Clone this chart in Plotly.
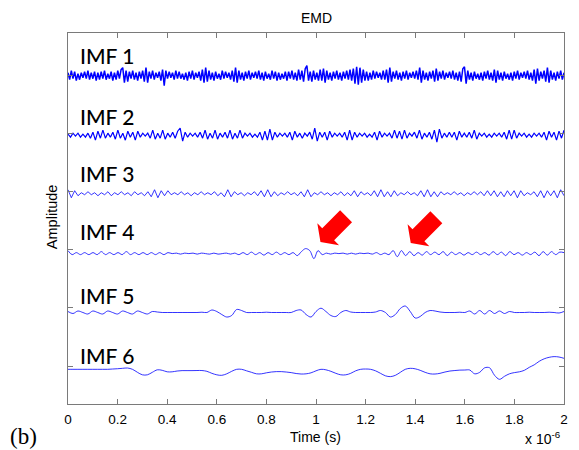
import numpy as np
import plotly.graph_objects as go

# ---------------- data (amplitudes, arbitrary units ~ px) ----------------
imf_names = ["IMF 1", "IMF 2", "IMF 3", "IMF 4", "IMF 5", "IMF 6"]

imf1 = [3,-4,5,-3,4,-5,2,-4,3,-2,4,-3,5,-4,3,-3,4,-5,3,-4,
        4,-3,5,-4,2,-3,4,-5,3,-4,5,-3,6,8,-7,5,-6,4,-3,5,
        -4,3,-5,4,-3,5,-6,8,-7,4,-3,5,-4,3,-2,4,-5,6,-10,5,
        -3,4,-2,3,-4,5,-3,4,-3,2,-4,3,-5,4,-3,5,-4,3,-2,4,
        -5,6,-7,8,-6,5,-4,3,-5,4,-3,2,-4,5,-3,4,-2,3,-4,5,
        -6,8,-7,5,-4,3,-5,4,-3,5,-4,3,-2,4,-3,5,-4,3,-5,4,
        -3,2,-4,5,-3,4,-5,3,-4,2,-3,4,-5,4,-3,5,-4,3,-5,6,
        -4,5,-6,7,10,-5,4,-6,5,-4,3,-5,6,-5,7,-7,5,-4,3,-5,
        4,-3,5,-4,3,-5,4,-3,5,-4,6,-5,7,-8,9,-9,8,-7,6,-5,
        4,-5,3,-4,5,-3,4,-2,3,-4,5,-4,6,-7,8,-6,4,-3,5,-4,
        3,-5,4,-3,5,-4,3,-2,4,-3,5,-4,8,-7,5,-4,3,-5,4,-3,
        5,-6,7,-5,4,-3,5,-4,3,-2,4,-3,5,-4,3,-5,4,-6,7,9,
        -8,5,-4,3,-5,4,-3,2,-4,3,-5,4,-3,5,-4,3,-5,6,-7,5,
        -4,3,-5,4,-3,2,-4,3,-5,4,-3,5,-4,3,-2,4,-3,5,-4,3,
        -5,6,-8,7,-5,4,-3,5,-6,8,-7,5,-4,3,-5,4,-3,5,-4,3]

imf2 = [1,-2,2,-1,2,-2,1,-2,2,-3,3,-5,4,-3,5,-3,2,-2,3,-4,
        5,-3,2,-5,4,-2,3,-5,4,-2,2,-1,2,-3,5,-4,2,-3,5,-4,
        2,-2,3,-3,4,7,-6,3,-2,2,-1,2,-2,3,-3,5,-4,2,-3,5,
        -4,2,-2,3,-3,5,-4,2,-3,5,-3,2,-1,2,-2,1,-2,3,-5,4,
        -5,6,-5,3,-2,2,-1,2,-2,3,-5,4,-2,2,-3,2,-1,3,-4,7,
        -6,3,-2,3,-5,4,-2,2,-1,2,-2,3,-5,5,-5,3,-2,2,-1,2,
        -2,1,-2,3,-5,4,-2,2,-1,2,-3,5,-3,4,-4,5,-3,2,-1,3,
        -3,5,-4,2,-2,3,-4,5,-7,6,-3,2,-2,3,-2,3,-5,4,-2,2,
        -2,3,-3,5,-4,2,-1,2,-2,1,-2,2,-1,2,-2,3,-4,5,-4,5,
        -3,2,-1,2,-2,1,-2,2,-1,2,-2,3,-5,4,-2,3,-5,4,-3,5]

imf3 = [4,-4,3,-2,1,-1,2,-1,1,-2,1,-1,2,-2,1,-1,2,-1,1,-2,
        2,-1,1,-2,2,-3,4,-4,3,-2,3,-1,1,-1,2,-1,1,-2,1,-1,
        2,-1,1,-1,2,-2,1,-3,4,-3,2,-1,1,-2,1,-1,2,-2,3,-3,
        4,-3,2,-2,1,-1,2,-1,1,-2,2,-3,4,-3,1,-1,2,-1,1,-2,
        1,-1,2,-2,1,-2,3,-3,2,-1,1,-2,3,-3,4,-3,2,-3,3,-2,
        1,-1,2,-1,1,-2,3,-3,4,-3,2,-3,2,-1,1,-1,2,-1,1,-2,
        1,-1,2,-1,2,-2,3,-2,3,-3,2,-3,3,-2,3,-4,3,-2,1,-1,
        2,-3,3,-4,3,-2,3,-4,4,-2]

imf4 = [3,-1,1,-1,1,-1,1,-1,2,-1,1,-1,1,-1,2,-1,1,-1,1,-1,
        1,-1,1,-1,1,0,0.5,-0.5,0.5,0,0.5,-0.5,0.5,0,-0.5,0.5,-0.5,0,0.5,-0.5,
        0.5,-1,1,-1,1.5,-1,1,-1.5,1,-1,1.5,-1,1,-1,1,-2,2,5,3,-5,
        3,-1,0.5,-0.5,0.5,0,0.5,-0.5,0.5,-0.5,0.5,0,0.5,-0.5,1,-1,0.5,-1,3,-3,
        3,-2,2,-2,1,-1.5,2,-1,1.5,-1,2,-2,1.5,-1,1,-1.5,1,-1,1.5,-1,
        1,-1.5,2,-1,1.5,-2,2,-1,1,-1.5,1,-1,1.5,-2,2,-1.5,2,-1,1.5,1]

imf5 = [1,-1,1.5,0,-1.5,1.5,0,-1.5,1.5,0,-1.5,1.5,0,-1.5,1.5,0,-1.5,1,
        0.5,0,0,0,0,0,0,0,0,0.3,0,
        2.5,1,-2,-4.5,-3,3,2,0,
        0,0,0,0.3,0,0,0,0,0,
        2,2.5,-2,-4.5,1,4.3,1,-3,-4,0,2,0.5,
        0,0,0,0,0.5,2,0,-4.5,-2,4,6.5,1,-5.5,-4,0,2,1.5,
        0.5,0,0,0,0.3,0,
        1.5,-1.5,2,-1.5,2,-1,1.5,-1,1,
        0,0,0,0.3,0,0,0,0.3,0,-0.5,1]

imf6 = [0,0,0,0,0,0,0,0,0,0.3,0.6,1,1.3,0,-3,-5.5,-5.5,-3,-0.5,-1,
        -2.5,-2.5,-1.7,-1.3,-1.3,-1.3,-1.2,-1.2,-2,-4,-5.5,-6,-4.5,-2,0,0,-1.5,-3,-4.5,-4.5,
        -3.5,-2.7,-2.3,-2.3,-2.7,-3.3,-4.2,-4.7,-4.5,-3.5,-1.5,0,-0.5,-2,-4,-5.5,-5.5,-4,-1.5,0,
        0.3,0,-1.5,-4,-6.5,-7.3,-6,-3,0,1,0.5,-1,-3,-4.5,-4.7,-4,-2.7,-1.7,-1.2,-0.8,
        -0.7,-0.7,-4.5,-3,1.5,1.5,-6,-10,-7,-4.5,-3.3,-2.5,-1,2,4.5,8,10.5,12,12.7,12.3,11]

imfs = [imf1, imf2, imf3, imf4, imf5, imf6]
imf_baseline = [-1.012, -2.034, -3.040, -4.069, -5.081, -6.057]   # vertical stacking offsets
amp_scale = 1 / 58.2                                            # amplitude units per offset unit
tick_vals = [-1, -2, -3, -4, -5, -6]
x_ticks = [0, 0.2, 0.4, 0.6, 0.8, 1.0, 1.2, 1.4, 1.6, 1.8, 2.0]
t_end = 2.0   # x 10^-6 s

# arrows pointing at features in IMF 4 (tip position: time in 1e-6 s, stacked amplitude)
arrow_t = [1.018, 1.382]
arrow_y = [-3.869, -3.887]

# ---------------- figure ----------------
W, H = 579, 450
ML, MR, MT, MB = 68, 11, 33, 46
PW, PH = W - ML - MR, H - MT - MB
y_max = -1 + 42 * amp_scale
y_min = y_max - PH * amp_scale

def px2paper(px, py):
    return (px - ML) / PW, (H - MB - py) / PH

fig = go.Figure()
smooth = ["linear", "linear", "linear", "spline", "spline", "spline"]
widths = [1.5, 1.2, 0.8, 0.8, 0.8, 0.8]
for name, vals, base, shp, lw in zip(imf_names, imfs, imf_baseline, smooth, widths):
    v = np.asarray(vals, dtype=float)
    t = np.linspace(0, t_end, len(v))
    fig.add_trace(go.Scatter(x=t, y=base + v * amp_scale, mode="lines",
                             line=dict(color="#0000ff", width=lw, shape=shp),
                             name=name, showlegend=False, hoverinfo="skip"))

axis_col = "#7a7a7a"
font_main = "Liberation Sans, Arial, sans-serif"
fig.update_layout(
    width=W, height=H, margin=dict(l=ML, r=MR, t=MT, b=MB),
    paper_bgcolor="white", plot_bgcolor="white",
    font=dict(family=font_main, size=13.5, color="black"),
    xaxis=dict(range=[0, t_end], tickvals=x_ticks, ticktext=[f"{v:g}" for v in x_ticks],
               ticks="inside", ticklen=5, tickcolor=axis_col, showline=True,
               linecolor=axis_col, linewidth=1, mirror="ticks", showgrid=False,
               zeroline=False, tickfont=dict(size=13.5), ticklabelstandoff=3),
    yaxis=dict(range=[y_min, y_max], tickvals=tick_vals, showticklabels=False,
               ticks="inside", ticklen=5, tickcolor=axis_col, showline=True,
               linecolor=axis_col, linewidth=1, mirror="ticks", showgrid=False,
               zeroline=False),
)

ann = []
def add_text(text, px, py, size=13.5, family=font_main, xanchor="center", angle=0, weight=400):
    x, y = px2paper(px, py)
    ann.append(dict(text=text, x=x, y=y,
                    xref="paper", yref="paper", showarrow=False,
                    xanchor=xanchor, yanchor="middle", textangle=angle,
                    font=dict(size=size, family=family, color="black", weight=weight)))

add_text("EMD", 318, 18, size=14)
add_text("Time (s)", 317, 437, size=14)
add_text("x 10<sup>-6</sup>", 567, 438, xanchor="right", size=14)
add_text("(b)", 8, 436, size=23, family="Liberation Serif, Times New Roman, serif", xanchor="left")
add_text("Amplitude", 52, 217, size=14.5, angle=-90)
label_py = [56, 116, 173, 231.5, 295, 355]
for name, py in zip(imf_names, label_py):
    add_text(name, 78, py, size=21, family="Lato, Noto Sans, sans-serif", xanchor="left", weight=500)
fig.update_layout(annotations=ann)

# block arrows (red), built around each tip in pixel units then mapped to data units
sx = t_end / PW          # data units per px (x)
sy = amp_scale           # data units per px (y)
L, Lh, Wh, Ws = 36.5, 11, 15.5, 8.5
local = [(0, 0), (Lh, -Wh), (Lh, -Ws), (L, -Ws), (L, Ws), (Lh, Ws), (Lh, Wh)]
bx, by = 0.7071, 0.7071   # backward direction: up-right
px_, py_ = 0.7071, -0.7071  # perpendicular
for ta, ya in zip(arrow_t, arrow_y):
    pts = []
    for u, v in local:
        dx = u * bx + v * px_
        dy = u * by + v * py_
        pts.append((ta + dx * sx, ya + dy * sy))
    path = "M " + " L ".join(f"{x:.5f},{y:.5f}" for x, y in pts) + " Z"
    fig.add_shape(type="path", path=path, xref="x", yref="y",
                  fillcolor="#ff0000", line=dict(width=0), layer="above")

fig.write_html("out.html")
